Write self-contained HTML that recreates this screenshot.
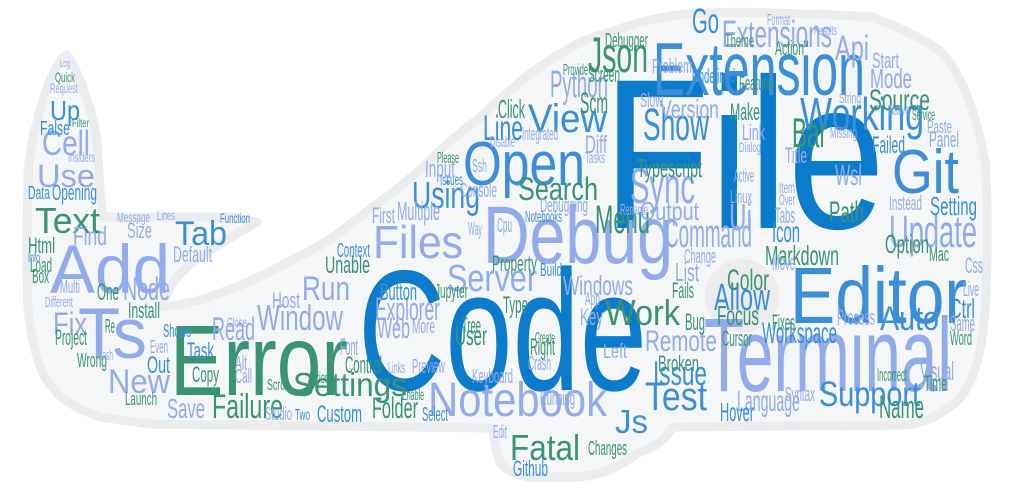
<!DOCTYPE html>
<html><head><meta charset="utf-8">
<style>
html,body{margin:0;padding:0;background:#fff;}
svg{display:block;}
text{font-family:"Liberation Sans",sans-serif;}
</style></head>
<body>
<svg id="cloud" width="1012" height="493" viewBox="0 0 1012 493" xmlns="http://www.w3.org/2000/svg">
<path fill="#f5f6f7" stroke="#ebecee" stroke-width="9" stroke-linejoin="round"
d="M67,55 C78,70 92,110 97,140 L100,190 L103,217 L167,217 L233,217 L257,222 C248,228 215,245 187,267 C175,278 166,292 163,307 C175,305 190,303 200,300 C230,290 250,282 267,273 C300,256 320,246 333,237 C350,226 362,214 373,207 C395,192 410,178 423,167 C440,150 455,136 473,123 C500,100 520,80 540,67 C565,50 585,38 607,33 C640,22 660,16 690,14 C720,12 750,12 772,13 C810,14 845,15 872,17 C900,28 925,40 939,50 C960,70 975,110 985,160 C988,200 988,260 985,310 C982,350 975,385 955,403 C940,415 925,423 905,425 L673,427 C665,440 655,447 640,452 C625,462 615,468 607,471 C595,475 585,477 573,477 L527,477 C515,474 505,469 500,463 C496,452 494,440 493,428 L150,424 C130,421 115,419 100,417 C80,410 66,402 57,393 C45,380 40,368 37,357 C32,340 29,322 28,307 C27,285 27,262 27,240 C27,215 28,195 28,173 C30,150 33,135 37,123 C41,105 45,92 50,80 C55,68 61,58 67,55 Z"/>
<circle cx="742" cy="296" r="37" fill="#ececed"/>
<g id="words"></g>
</svg>
<script>
const COLORS = {D:"#0b7bcc", M:"#3b8fd8", L:"#92aceb", G:"#3a9473"};
// [text, x, baseline, fontSize, color, width]
const words = [
["File",603,228,214,"D",282],
["Code",358,390,172,"D",289],
["Error",170,395,100,"G",178],
["Terminal",704,391,105,"L",248],
["Editor",790,323,80,"M",177],
["Debug",483,263,82,"L",190],
["Extension",653,95,75,"M",212],
["Add",50,293,69,"L",120],
["Ts",78,358,71,"L",69],
["Open",463,185,62,"M",122],
["Notebook",428,416,48,"L",179],
["Git",892,193,62,"M",67],
["View",528,132,40,"M",79],
["Files",373,258,46,"L",90],
["Working",800,130,46,"M",124],
["Update",889,247,45,"L",88],
["Show",643,140,45,"M",66],
["Sync",630,203,50,"L",65],
["Server",447,291,38,"L",90],
["Work",605,325,36,"G",75],
["Json",588,72,50,"G",60],
["Command",665,247,40,"L",87],
["Menu",595,233,40,"G",55],
["Search",518,200,32,"G",80],
["Using",412,208,38,"M",68],
["Window",257,330,36,"L",86],
["Text",35,233,36,"G",65],
["Settings",293,396,33,"G",114],
["Failure",212,418,34,"G",71],
["Fatal",510,460,36,"G",70],
["Support",819,406,35,"M",101],
["Test",645,410,40,"M",62],
["Auto",880,330,34,"M",59],
["Allow",714,310,38,"M",56],
["Run",302,300,34,"L",48],
["Cell",42,155,35,"L",48],
["Use",37,187,32,"L",58],
["Tab",175,245,34,"M",52],
["Node",123,300,32,"L",47],
["New",108,393,34,"L",62],
["Fix",53,335,32,"L",34],
["Read",212,340,32,"L",43],
["Explorer",375,320,32,"L",65],
["Web",377,338,30,"L",33],
["Issue",653,385,34,"M",54],
["Js",615,433,33,"M",33],
["Remote",645,351,30,"L",72],
["Python",550,97,38,"L",58],
["Extensions",722,47,38,"L",110],
["Source",869,110,30,"G",61],
["Bar",792,147,42,"G",35],
["Path",829,222,30,"G",35],
["Wsl",835,185,30,"L",27],
["Ui",729,230,38,"L",23],
["Icon",772,242,30,"M",28],
["Go",692,33,35,"M",27],
["Api",835,60,35,"L",34],
["Mode",870,88,28,"L",42],
["Scm",580,113,30,"G",28],
["Line",483,140,35,"M",40],
["Name",879,418,32,"G",45],
["Language",737,411,30,"L",63],
["Workspace",762,343,30,"M",75],
["Markdown",765,265,28,"G",74],
["Color",727,290,30,"G",42],
["Focus",717,325,28,"G",42],
["Option",885,253,26,"G",44],
["Ctrl",950,318,28,"M",25],
["Visual",920,380,26,"L",34],
["Hover",720,421,26,"M",34],
["Folder",372,418,30,"G",46],
["Custom",317,422,24,"M",45],
["Save",167,418,28,"L",38],
["Typescript",637,177,26,"G",65],
["Version",660,118,26,"L",59],
["Output",640,220,26,"L",59],
["Multiple",397,220,26,"L",43],
["Input",425,177,24,"L",30],
["Control",345,373,24,"G",37],
["Button",380,300,24,"M",37],
["User",455,345,28,"G",32],
["Right",530,355,24,"G",25],
["Type",503,313,24,"G",25],
["Key",580,325,24,"L",23],
["Windows",563,295,28,"L",70],
["Find",73,245,26,"L",34],
["Unable",325,273,24,"G",45],
["Setting",930,215,26,"M",47],
["Failed",872,153,24,"M",33],
["Process",837,325,22,"L",38],
["Fixes",772,330,22,"G",23],
["Cursor",722,346,22,"G",30],
["Broken",658,371,22,"G",41],
["List",675,281,26,"L",24],
["Fails",672,298,22,"G",22],
["Bug",685,330,24,"G",20],
["Change",684,263,20,"L",32],
["Move",772,270,22,"L",23],
["Diff",585,153,25,"L",22],
["Click",498,118,26,"G",27],
["Up",50,120,28,"M",30],
["Opening",52,200,22,"M",45],
["Default",173,262,22,"L",39],
["Size",127,238,22,"L",25],
["Html",28,253,22,"G",27],
["One",97,300,24,"G",22],
["Install",128,318,22,"G",32],
["Project",55,345,22,"G",32],
["Wrong",77,367,20,"G",30],
["Out",147,373,24,"M",23],
["Task",187,358,22,"M",27],
["Copy",192,382,22,"G",27],
["Host",272,308,22,"L",28],
["Time",924,391,22,"G",23],
["Same",950,331,22,"L",25],
["Word",950,345,20,"G",22],
["Css",965,273,22,"L",18],
["Live",963,296,20,"L",16],
["Mac",929,261,20,"G",20],
["Syntax",785,401,20,"L",30],
["Incorrect",877,381,18,"G",30],
["Debugger",605,47,20,"G",43],
["Screen",588,82,22,"G",32],
["Start",872,68,22,"L",27],
["Undefined",692,83,20,"M",43],
["Feature",739,90,20,"G",33],
["Make",730,120,24,"G",30],
["Link",742,140,22,"L",23],
["Title",785,163,22,"L",22],
["Panel",929,147,22,"L",30],
["Theme",725,47,18,"G",29],
["Action",775,55,20,"G",29],
["Debugging",540,212,20,"L",48],
["Console",460,197,20,"L",37],
["Jupyter",435,298,20,"G",33],
["Property",492,271,22,"G",45],
["Preview",412,373,20,"L",33],
["Keyboard",472,383,20,"L",41],
["Running",540,405,20,"L",35],
["Changes",588,455,20,"G",39],
["Github",513,476,22,"M",35],
["Select",422,421,20,"M",26],
["Edit",493,438,18,"L",14],
["Crash",528,370,20,"L",23],
["Left",603,358,20,"L",24],
["Instead",889,210,20,"L",33],
["Linux",730,203,18,"L",22],
["Active",734,182,18,"L",20],
["Integrated",522,140,18,"L",36],
["First",372,223,22,"L",23],
["Studio",265,420,18,"L",27],
["Context",337,257,20,"M",33],
["Cpu",497,232,20,"L",15],
["Way",468,235,18,"L",14],
["Ssh",472,172,18,"L",15],
["False",40,135,20,"M",30],
["Data",28,199,18,"M",22],
["Load",30,272,20,"G",22],
["Box",32,283,20,"G",17],
["Launch",125,405,18,"G",32],
["Slow",640,107,20,"L",23],
["Problem",652,73,20,"L",40],
["Tabs",775,223,22,"L",20],
["Paste",927,133,18,"L",25],
["Tree",462,333,22,"G",19],
["More",412,333,20,"L",23],
["App",585,305,18,"L",15],
["Provide",563,75,16,"G",25],
["Please",437,163,16,"G",22],
["Issues",440,185,16,"M",23],
["Disable",490,147,16,"L",25],
["Notebooks",525,222,16,"M",37],
["Rename",620,215,16,"L",28],
["Tasks",585,163,16,"L",20],
["Format",767,25,16,"L",23],
["Results",814,35,14,"L",23],
["Native",889,115,16,"L",20],
["Service",912,120,16,"G",23],
["Missing",830,138,16,"L",27],
["String",839,103,15,"L",22],
["Item",779,193,16,"L",16],
["Over",779,205,16,"L",16],
["Dialog",739,152,14,"L",22],
["Quick",55,82,14,"G",20],
["Request",50,93,14,"L",28],
["Insiders",68,162,14,"L",27],
["Message",117,222,14,"L",33],
["Lines",157,220,14,"L",18],
["Function",220,223,14,"M",30],
["Info",28,262,14,"M",12],
["Multi",60,293,18,"L",20],
["Different",45,307,15,"L",28],
["Re",105,333,20,"G",10],
["Bash",98,360,15,"L",15],
["Even",150,353,18,"L",18],
["Shows",163,337,18,"M",28],
["Alt",235,370,20,"L",12],
["Call",235,383,20,"L",17],
["Two",295,420,16,"M",15],
["Scroll",267,390,16,"G",22],
["Actions",308,383,16,"G",25],
["Font",340,355,24,"L",18],
["Close",227,327,14,"L",20],
["Build",540,276,18,"M",22],
["Links",388,373,16,"L",17],
["Create",535,343,16,"G",20],
["Enable",402,400,16,"G",22],
["Log",60,67,11,"L",10],
["Filter",72,127,12,"G",17]
];
const g = document.getElementById('words');
const NS = "http://www.w3.org/2000/svg";
for (const w of words) {
  const t = document.createElementNS(NS, 'text');
  t.setAttribute('x', w[1]);
  t.setAttribute('y', w[2]);
  t.setAttribute('font-size', w[3]);
  t.setAttribute('fill', COLORS[w[4]]);
  t.setAttribute('textLength', w[5]);
  t.setAttribute('lengthAdjust', 'spacingAndGlyphs');
  
  
  t.textContent = w[0];
  g.appendChild(t);
}
</script>
</body></html>
